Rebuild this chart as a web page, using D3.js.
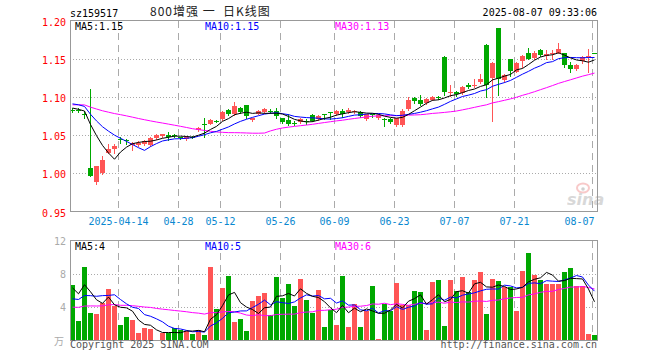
<!DOCTYPE html>
<html>
<head>
<meta charset="utf-8">
<script src="https://cdn.jsdelivr.net/npm/d3@7"></script>
<style>
body { margin: 0; background: #fff; }
text { font-family: "DejaVu Sans Mono", monospace; font-size: 10px; }
</style>
</head>
<body>
<div id="chart"></div>
<script>
// trading days shown (2025)
var dates = ["04-01","04-02","04-03","04-07","04-08","04-09","04-10","04-11","04-14","04-15",
  "04-16","04-17","04-18","04-21","04-22","04-23","04-24","04-25","04-28","04-29",
  "04-30","05-06","05-07","05-08","05-09","05-12","05-13","05-14","05-15","05-16",
  "05-19","05-20","05-21","05-22","05-23","05-26","05-27","05-28","05-29","05-30",
  "06-03","06-04","06-05","06-06","06-09","06-10","06-11","06-12","06-13","06-16",
  "06-17","06-18","06-19","06-20","06-23","06-24","06-25","06-26","06-27","06-30",
  "07-01","07-02","07-03","07-04","07-07","07-08","07-09","07-10","07-11","07-14",
  "07-15","07-16","07-17","07-18","07-21","07-22","07-23","07-24","07-25","07-28",
  "07-29","07-30","07-31","08-01","08-04","08-05","08-06","08-07"];

var open = [1.083,1.0825,1.078,1.007,0.988,1.000,1.026,1.032,1.045,1.043,
  1.037,1.037,1.038,1.037,1.046,1.049,1.050,1.050,1.047,1.045,
  1.048,1.057,1.064,1.065,1.069,1.071,1.083,1.077,1.086,1.089,
  1.070,1.078,1.080,1.082,1.082,1.072,1.070,1.066,1.067,1.069,
  1.076,1.071,1.077,1.080,1.077,1.0815,1.080,1.080,1.080,1.071,
  1.077,1.072,1.071,1.071,1.063,1.063,1.084,1.098,1.0965,1.092,
  1.0965,1.100,1.152,1.105,1.107,1.105,1.115,1.115,1.120,1.168,
  1.125,1.190,1.122,1.149,1.133,1.147,1.157,1.151,1.161,1.153,
  1.1575,1.158,1.157,1.142,1.136,1.147,1.153,1.158];

var high = [1.085,1.085,1.081,1.110,1.010,1.023,1.039,1.039,1.048,1.045,
  1.041,1.042,1.043,1.048,1.051,1.052,1.054,1.052,1.048,1.049,
  1.049,1.060,1.073,1.071,1.070,1.082,1.084,1.093,1.087,1.090,
  1.073,1.083,1.0855,1.084,1.085,1.073,1.078,1.068,1.072,1.071,
  1.077,1.076,1.078,1.080,1.0835,1.084,1.086,1.083,1.081,1.078,
  1.078,1.077,1.073,1.072,1.073,1.0845,1.1005,1.100,1.103,1.098,
  1.101,1.101,1.153,1.116,1.108,1.114,1.118,1.124,1.130,1.169,
  1.146,1.190,1.130,1.150,1.146,1.155,1.164,1.160,1.163,1.161,
  1.161,1.170,1.158,1.146,1.143,1.154,1.163,1.158];

var low = [1.080,1.080,1.073,0.996,0.986,0.999,1.026,1.027,1.040,1.038,
  1.030,1.036,1.037,1.036,1.045,1.048,1.044,1.047,1.045,1.044,
  1.046,1.056,1.048,1.064,1.067,1.070,1.076,1.076,1.079,1.073,
  1.069,1.077,1.079,1.079,1.073,1.066,1.063,1.063,1.066,1.065,
  1.068,1.070,1.071,1.071,1.076,1.0735,1.079,1.079,1.074,1.070,
  1.074,1.071,1.062,1.066,1.062,1.062,1.083,1.092,1.090,1.091,
  1.096,1.097,1.103,1.101,1.101,1.104,1.111,1.1125,1.118,1.100,
  1.069,1.102,1.119,1.127,1.132,1.139,1.149,1.150,1.154,1.149,
  1.149,1.157,1.139,1.133,1.135,1.144,1.133,1.157];

var close = [1.081,1.0815,1.077,0.997,1.010,1.017,1.032,1.036,1.044,1.042,
  1.040,1.040,1.042,1.046,1.050,1.051,1.047,1.049,1.046,1.048,
  1.047,1.059,1.063,1.070,1.068,1.080,1.077,1.088,1.080,1.075,
  1.072,1.081,1.084,1.081,1.075,1.067,1.065,1.065,1.071,1.068,
  1.069,1.075,1.076,1.079,1.082,1.077,1.083,1.082,1.075,1.077,
  1.076,1.076,1.070,1.067,1.072,1.081,1.0955,1.094,1.091,1.097,
  1.100,1.099,1.106,1.106,1.104,1.113,1.113,1.1155,1.123,1.115,
  1.145,1.124,1.129,1.134,1.145,1.154,1.150,1.157,1.155,1.1557,
  1.158,1.1627,1.142,1.137,1.142,1.1526,1.1535,1.157];

// volume (万)
var volume = [6.65,2.37,8.86,3.35,3.22,4.49,6.16,4.20,1.88,2.86,
  2.49,0.90,1.51,1.39,0.10,0.90,0.90,1.51,1.27,1.14,
  0.83,1.31,0.71,8.79,3.80,6.30,7.72,2.26,2.61,1.19,
  4.79,5.35,5.70,3.05,7.60,5.11,6.77,4.16,7.37,4.87,
  3.33,6.06,1.66,3.72,1.90,7.72,1.66,4.40,1.58,3.56,
  6.53,0.24,4.44,3.56,6.93,4.32,4.32,5.98,5.86,1.31,
  7.05,7.29,1.70,7.29,5.98,7.60,5.82,7.29,8.24,3.21,
  7.41,7.17,6.38,6.38,3.60,8.36,10.50,7.88,7.29,6.81,
  6.81,6.81,8.24,8.67,6.60,6.60,0.75,0.63];

// sessions before the window, only needed to start the moving averages
var preClose = [1.080,1.082,1.085,1.083,1.086,1.088,1.090,1.087,1.089,1.091,
  1.093,1.090,1.092,1.094,1.091,1.089,1.092,1.090,1.093,1.095,
  1.094,1.098,1.100,1.097,1.093,1.090,1.088,1.085,1.083];
var preVolume = [3.1,4.2,2.8,3.6,3.9,2.5,3.3,4.4,3.0,3.8,
  3.2,4.0,2.9,3.7,3.5,3.1,4.1,3.4,3.6,3.9,
  3.2,4.1,3.5,4.0,3.7,5.9,3.4,7.6,8.0];

var tickDates = ["04-14","04-28","05-12","05-26","06-09","06-23","07-07","07-21","08-07"];
var tickLabels = ["2025-04-14","04-28","05-12","05-26","06-09","06-23","07-07","07-21","08-07"];
var priceTicks = [0.95, 1.00, 1.05, 1.10, 1.15, 1.20];
var volTicks = [4, 8, 12];

var upColor = "#ff5555", downColor = "#00a800";
var maColors = {5: "#000000", 10: "#0000ff", 30: "#ff00ff"};

var svgWidth = 660, svgHeight = 360;
var left = 70, right = 598;

var svg = d3.select("#chart").append("svg")
  .attr("width", svgWidth)
  .attr("height", svgHeight);

var idx = d3.range(dates.length);
var x = d3.scaleBand().domain(idx).range([left, right]).padding(0);
var barW = x.bandwidth() - 1;
var cx = function(i) { return x(i) + barW / 2; };

var yPrice = d3.scaleLinear().domain([0.95, 1.20]).range([211.5, 20.5]);
var yVol = d3.scaleLinear().domain([0, 12]).range([340.5, 240.5]);

function movingAvg(pre, vals, n) {
  var all = pre.concat(vals);
  return idx.map(function(i) {
    var end = pre.length + i + 1;
    return d3.mean(all.slice(end - n, end));
  });
}

var defs = svg.append("defs");
defs.append("clipPath").attr("id", "clipP").append("rect")
  .attr("x", left).attr("y", 21).attr("width", 527).attr("height", 190);
defs.append("clipPath").attr("id", "clipV").append("rect")
  .attr("x", left).attr("y", 241).attr("width", 527).attr("height", 99);

// grid lines
var tickIdx = tickDates.map(function(d) { return dates.indexOf(d); });

function grid(yScale, hTicks, top, bottom) {
  var g = svg.append("g");
  g.selectAll("line.h").data(hTicks).enter().append("line")
    .attr("x1", left).attr("x2", 597)
    .attr("y1", function(d) { return Math.round(yScale(d)) + 0.5; })
    .attr("y2", function(d) { return Math.round(yScale(d)) + 0.5; })
    .attr("stroke", "#aaa").attr("stroke-dasharray", "1,2");
  g.selectAll("line.v").data(tickIdx).enter().append("line")
    .attr("x1", function(i) { return x(i) + 0.5; })
    .attr("x2", function(i) { return x(i) + 0.5; })
    .attr("y1", top).attr("y2", bottom)
    .attr("stroke", "#aaa").attr("stroke-dasharray", "7,5");
}
grid(yPrice, [1.00, 1.05, 1.10, 1.15], 21, 211);
grid(yVol, [4, 8], 241, 340);

// sina watermark
var logo = svg.append("g").attr("opacity", 0.45);
logo.append("ellipse").attr("cx", 583).attr("cy", 188).attr("rx", 6).attr("ry", 4.5)
  .attr("fill", "none").attr("stroke", "#f08a8a").attr("stroke-width", 2);
logo.append("circle").attr("cx", 583).attr("cy", 189).attr("r", 1.8).attr("fill", "#999");
logo.append("text").attr("x", 567).attr("y", 205)
  .style("font-family", "DejaVu Sans").style("font-size", "16px")
  .style("font-style", "italic").style("font-weight", "bold")
  .attr("fill", "#aaa").text("sina");

// candles
var candles = svg.append("g").attr("shape-rendering", "crispEdges");
var colorOf = function(i) { return close[i] > open[i] ? upColor : downColor; };

candles.selectAll("line").data(idx).enter().append("line")
  .attr("x1", function(i) { return x(i) + 2.5; })
  .attr("x2", function(i) { return x(i) + 2.5; })
  .attr("y1", function(i) { return Math.round(yPrice(high[i])); })
  .attr("y2", function(i) { return Math.round(yPrice(low[i])) + 1; })
  .attr("stroke", colorOf);

candles.selectAll("rect").data(idx).enter().append("rect")
  .attr("x", function(i) { return x(i); })
  .attr("width", barW)
  .attr("y", function(i) { return Math.round(yPrice(Math.max(open[i], close[i]))); })
  .attr("height", function(i) {
    var t = Math.round(yPrice(Math.max(open[i], close[i])));
    var b = Math.round(yPrice(Math.min(open[i], close[i])));
    return Math.max(1, b - t);
  })
  .attr("fill", colorOf);

// volume bars
svg.append("g").attr("shape-rendering", "crispEdges")
  .selectAll("rect").data(idx).enter().append("rect")
  .attr("x", function(i) { return x(i); })
  .attr("width", barW)
  .attr("y", function(i) { return Math.round(yVol(volume[i])); })
  .attr("height", function(i) { return 340 - Math.round(yVol(volume[i])); })
  .attr("fill", colorOf);

// moving averages
var priceMA = {}, volMA = {};
[5, 10, 30].forEach(function(n) {
  priceMA[n] = movingAvg(preClose, close, n);
  volMA[n] = movingAvg(preVolume, volume, n);
});

[30, 10, 5].forEach(function(n) {
  svg.append("path").datum(priceMA[n])
    .attr("clip-path", "url(#clipP)")
    .attr("fill", "none").attr("stroke", maColors[n]).attr("stroke-width", 1)
    .attr("d", d3.line().x(function(d, i) { return cx(i); }).y(function(d) { return yPrice(d); }));
  svg.append("path").datum(volMA[n])
    .attr("clip-path", "url(#clipV)")
    .attr("fill", "none").attr("stroke", maColors[n]).attr("stroke-width", 1)
    .attr("d", d3.line().x(function(d, i) { return cx(i); }).y(function(d) { return yVol(d); }));
});

// frames
svg.append("rect").attr("x", 70.5).attr("y", 20.5).attr("width", 527).attr("height", 191)
  .attr("fill", "none").attr("stroke", "#999");
svg.append("rect").attr("x", 70.5).attr("y", 240.5).attr("width", 527).attr("height", 100)
  .attr("fill", "none").attr("stroke", "#999");

// axes
var pAxis = svg.append("g").attr("transform", "translate(70,0)")
  .call(d3.axisLeft(yPrice).tickValues(priceTicks).tickFormat(d3.format(".2f")).tickSize(0).tickPadding(4));
pAxis.select(".domain").remove();
pAxis.selectAll("text").attr("dy", "4.5").attr("fill", "#ff0000")
  .style("font-family", "DejaVu Sans Mono").style("font-size", "10px");

var vAxis = svg.append("g").attr("transform", "translate(70,0)")
  .call(d3.axisLeft(yVol).tickValues(volTicks).tickSize(0).tickPadding(4));
vAxis.select(".domain").remove();
vAxis.selectAll("text").attr("dy", "3.5").attr("fill", "#aaa")
  .style("font-family", "DejaVu Sans Mono").style("font-size", "10px");

var xAxis = svg.append("g").attr("transform", "translate(0,212)")
  .call(d3.axisBottom(x).tickValues(tickIdx)
    .tickFormat(function(i) { return tickLabels[tickIdx.indexOf(i)]; })
    .tickSize(0).tickPadding(3));
xAxis.select(".domain").remove();
xAxis.selectAll("text").attr("dy", "10").attr("dx", -2.5).attr("fill", "#0a88d0")
  .style("font-family", "DejaVu Sans Mono").style("font-size", "10px")
  .filter(function(i) { return i === tickIdx[tickIdx.length - 1]; })
  .attr("text-anchor", "end").attr("dx", -0.5);

// header texts
function label(t, xx, yy, color, anchor) {
  return svg.append("text").attr("x", xx).attr("y", yy)
    .attr("fill", color).attr("text-anchor", anchor || "start").text(t);
}
label("sz159517", 70, 17, "#000");
svg.append("text").attr("x", 150).attr("y", 16)
  .style("font-family", "'Noto Sans CJK SC', sans-serif").style("font-size", "12px")
  .style("letter-spacing", "1px").style("white-space", "pre")
  .attr("fill", "#222").text("800增强 一  日K线图");
label("2025-08-07 09:33:06", 597, 16, "#000", "end");

label("MA5:" + priceMA[5][87].toFixed(2), 75, 29.5, maColors[5]);
label("MA10:" + priceMA[10][87].toFixed(2), 205, 29.5, maColors[10]);
label("MA30:" + priceMA[30][87].toFixed(2), 335, 29.5, maColors[30]);

label("MA5:" + Math.floor(volMA[5][87]), 75, 250, maColors[5]);
label("MA10:" + Math.floor(volMA[10][87]), 205, 250, maColors[10]);
label("MA30:" + Math.floor(volMA[30][87]), 335, 250, maColors[30]);

svg.append("text").attr("x", 54).attr("y", 345)
  .style("font-family", "'Noto Sans CJK SC', sans-serif").style("font-size", "10px")
  .attr("fill", "#aaa").text("万");
label("Copyright 2025 SINA.COM", 70, 348, "#555");
label("http://finance.sina.com.cn", 597, 348, "#555", "end");
</script>
</body>
</html>
